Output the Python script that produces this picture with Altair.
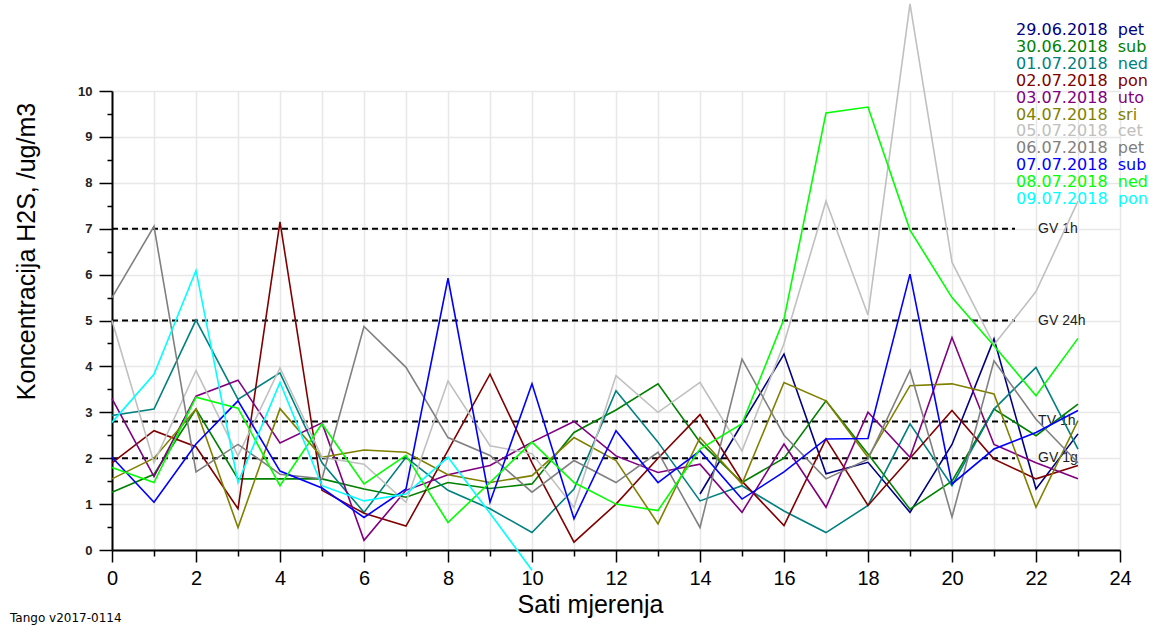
import altair as alt
import pandas as pd

# ---------------- data ----------------
hours = [0, 1, 2, 3, 4, 5, 6, 7, 8, 9, 10, 11, 12, 13, 14, 15, 16, 17, 18, 19, 20, 21, 22, 23]

dates = ["29.06.2018", "30.06.2018", "01.07.2018", "02.07.2018", "03.07.2018", "04.07.2018",
         "05.07.2018", "06.07.2018", "07.07.2018", "08.07.2018", "09.07.2018"]
days = ["pet", "sub", "ned", "pon", "uto", "sri", "cet", "pet", "sub", "ned", "pon"]
colors = ["#000080", "#008000", "#008080", "#800000", "#800080", "#808000",
          "#c0c0c0", "#808080", "#0000ff", "#00ff00", "#00ffff"]

d_2906 = [None, None, None, None, None, None, None, None, None, None, None, None, None, None,
          1.22, 2.75, 4.27, 1.66, 1.91, 0.82, 2.3, 4.6, 1.33, 2.53]
d_3006 = [1.26, 1.65, 3.07, 1.55, 1.55, 1.55, 1.33, 1.15, 1.47, 1.34, 1.44, 2.56,
          3.05, 3.62, 2.35, 1.47, 2.0, 3.25, 2.09, 0.89, 1.5, 3.07, 2.49, 3.18]
d_0107 = [2.93, 3.07, 5.01, 3.28, 3.86, 1.9, 0.82, 2.02, 1.3, 0.9, 0.38, 1.33,
          3.47, 2.35, 1.07, 1.4, 0.85, 0.38, 0.97, 2.75, 1.4, 3.07, 3.98, 2.2]
d_0207 = [1.9, 2.6, 2.25, 0.9, 7.15, 1.3, 0.8, 0.52, 2.17, 3.83, 1.9, 0.17,
          1.0, 2.0, 2.95, 1.5, 0.53, 2.42, 0.97, 2.0, 3.04, 1.98, 1.55, 1.84]
d_0307 = [3.3, 1.6, 3.35, 3.7, 2.33, 2.77, 0.21, 1.3, 1.64, 1.84, 2.35, 2.8,
          2.05, 1.69, 1.87, 0.82, 2.31, 0.93, 3.0, 2.02, 4.63, 2.3, 1.9, 1.55]
d_0407 = [1.55, 2.0, 3.07, 0.49, 3.08, 2.02, 2.18, 2.13, 1.64, 1.47, 1.62, 2.45,
          1.95, 0.57, 2.45, 1.44, 3.65, 3.25, 2.02, 3.58, 3.62, 3.4, 0.93, 2.82]
d_0507 = [5.0, 1.9, 3.91, 2.05, 3.97, 2.02, 1.87, 1.04, 3.68, 2.27, 2.1, 0.93,
          3.8, 3.0, 3.65, 2.16, 4.5, 7.6, 5.12, 11.9, 6.27, 4.47, 5.63, 7.6]
d_0607 = [5.5, 7.05, 1.7, 2.3, 1.65, 1.55, 4.87, 3.98, 2.45, 2.06, 1.26, 1.95,
          1.47, 2.13, 0.49, 4.16, 2.5, 1.55, 1.98, 3.91, 0.72, 4.12, 2.85, 1.9]
d_0707 = [2.02, 1.04, 2.31, 3.25, 1.72, 1.35, 0.71, 1.33, 5.92, 1.04, 3.62, 0.68,
          2.6, 1.47, 2.16, 1.11, 1.7, 2.42, 2.43, 6.01, 1.44, 2.2, 2.56, 3.04]
d_0807 = [1.8, 1.47, 3.33, 3.09, 1.4, 2.75, 1.44, 2.06, 0.6, 1.47, 2.35, 1.47,
          1.0, 0.86, 2.2, 2.75, 5.03, 9.52, 9.65, 6.97, 5.5, 4.45, 3.36, 4.61]
d_0907 = [2.78, 3.83, 6.09, 1.47, 3.65, 1.4, 1.07, 1.22, 2.02, 0.8, -0.44, None,
          None, None, None, None, None, None, None, None, None, None, None, None]

series_values = [d_2906, d_3006, d_0107, d_0207, d_0307, d_0407,
                 d_0507, d_0607, d_0707, d_0807, d_0907]

ref_values = [7, 5, 2.8, 2]
ref_labels = ["GV 1h", "GV 24h", "TV 1h", "GV 1g"]

y_tick_values = [0, 0.5, 1, 1.5, 2, 2.5, 3, 3.5, 4, 4.5, 5, 5.5, 6, 6.5, 7, 7.5, 8, 8.5, 9, 9.5, 10]
x_tick_values = [0, 1, 2, 3, 4, 5, 6, 7, 8, 9, 10, 11, 12, 13, 14, 15, 16, 17, 18, 19, 20, 21, 22, 23, 24]

# ---------------- tables ----------------
NB = "\u00a0\u00a0"
legend_labels = [d + NB + dn for d, dn in zip(dates, days)]

rows = []
for lab, vals in zip(legend_labels, series_values):
    for h, v in zip(hours, vals):
        if v is not None:
            rows.append({"sat": h, "vrijednost": v, "serija": lab})
df = pd.DataFrame(rows)

ref_df = pd.DataFrame({"granica": ref_values, "oznaka": ref_labels})

AXFONT = "Liberation Sans Narrow, Liberation Sans, Arial"
TFONT = "Liberation Sans, Arial"

x_scale = alt.Scale(domain=[0, 24], nice=False, zero=False)
y_scale = alt.Scale(domain=[0, 10], nice=False, zero=False)

x_axis = alt.Axis(
    values=x_tick_values,
    labelExpr="datum.value % 2 === 0 ? format(datum.value, 'd') : ''",
    tickSize={"condition": {"test": "datum.value % 2 === 0", "value": 12}, "value": 6},
    grid=True, gridColor="#e8e8e8", gridWidth=1.5,
    domainColor="black", domainWidth=2, tickColor="black", tickWidth=1.5,
    labelFont=AXFONT, labelFontSize=20, labelColor="black", labelPadding=6,
    labelFlush=False, labelOverlap=False,
    title="Sati mjerenja", titleFont=TFONT, titleFontSize=25, titleFontWeight="normal",
    titleColor="black", titleX=478, titleY=42, titleBaseline="top",
)
y_axis = alt.Axis(
    values=y_tick_values,
    labelExpr="datum.value % 1 === 0 ? format(datum.value, 'd') : ''",
    tickSize={"condition": {"test": "datum.value % 1 === 0", "value": 13}, "value": 5},
    grid=True, gridColor="#e8e8e8", gridWidth=1.5,
    gridOpacity={"condition": {"test": "datum.value % 1 === 0", "value": 1}, "value": 0},
    domainColor="black", domainWidth=2, tickColor="black", tickWidth=1.5,
    labelFont=AXFONT, labelFontSize=13, labelFontWeight="bold", labelColor="#222222",
    labelPadding=7, labelFlush=False, labelOverlap=False,
    title="Koncentracija H2S, /ug/m3", titleFont=TFONT, titleFontSize=25,
    titleFontWeight="normal", titleColor="black", titleX=-73, titleY=160,
    titleBaseline="bottom",
)

rules = alt.Chart(ref_df).mark_rule(color="black", strokeDash=[6, 4], strokeWidth=2).encode(
    x=alt.datum(0, scale=x_scale),
    x2=alt.datum(21.5),
    y=alt.Y("granica:Q", scale=y_scale, axis=y_axis),
)
ref_text = alt.Chart(ref_df).mark_text(
    align="left", baseline="middle", fontSize=14, font=TFONT, color="#222222"
).encode(
    x=alt.datum(22.05, scale=x_scale),
    y=alt.Y("granica:Q", scale=y_scale, axis=y_axis),
    text="oznaka:N",
)

lines = alt.Chart(df).mark_line(strokeWidth=1.6, clip=False).encode(
    x=alt.X("sat:Q", scale=x_scale, axis=x_axis),
    y=alt.Y("vrijednost:Q", scale=y_scale, axis=y_axis),
    color=alt.Color(
        "serija:N",
        scale=alt.Scale(domain=legend_labels, range=colors),
        legend=alt.Legend(
            orient="none", legendX=888, legendY=-69, title=None,
            symbolSize=0, symbolStrokeWidth=0, symbolOpacity=0, labelOffset=0,
            labelFont="DejaVu Sans, Verdana", labelFontSize=16, rowPadding=0.9,
            labelLimit=400, padding=0,
            labelColor=alt.ExprRef(expr="scale('color', datum.value)"),
        ),
    ),
)

chart = alt.layer(rules, ref_text, lines).properties(
    width=1008,
    height=459,
    autosize=alt.AutoSizeParams(type="none"),
    padding={"left": 112, "top": 91, "right": 34, "bottom": 78},
    background="white",
    title=alt.TitleParams(
        "Tango v2017-0114", orient="bottom", anchor="start", frame="group",
        fontSize=12, font="DejaVu Sans, Arial", fontWeight="normal", color="black",
        dx=-102, offset=-4,
    ),
).configure_view(stroke=None)

chart.save("out.html", embed_options={"renderer": "svg", "actions": False})
